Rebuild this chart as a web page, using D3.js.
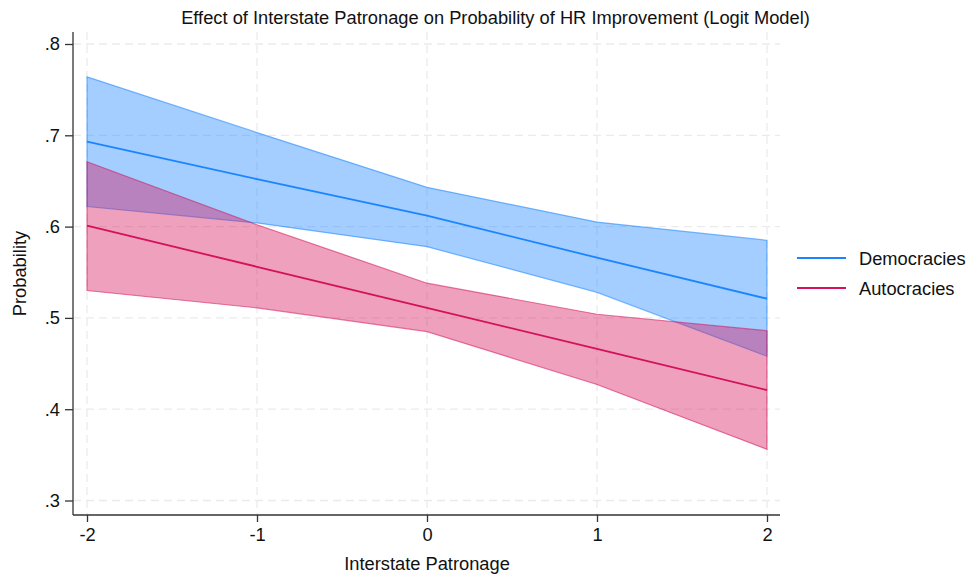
<!DOCTYPE html>
<html>
<head>
<meta charset="utf-8">
<script src="https://cdn.jsdelivr.net/npm/d3@7"></script>
<style>
  html, body { margin: 0; padding: 0; background: #fff; }
  svg { display: block; font-family: "Liberation Sans", Arial, Helvetica, sans-serif; }
</style>
</head>
<body>
<svg id="chart" width="969" height="575"></svg>
<script>
// Predicted probabilities with 95% CIs across interstate patronage levels
const patronage = [-2, -1, 0, 1, 2];
const demMean  = [0.693, 0.652, 0.612, 0.566, 0.521];
const demLow   = [0.622, 0.604, 0.578, 0.528, 0.458];
const demHigh  = [0.764, 0.703, 0.643, 0.605, 0.585];
const autMean  = [0.601, 0.556, 0.511, 0.466, 0.421];
const autLow   = [0.530, 0.511, 0.485, 0.427, 0.356];
const autHigh  = [0.671, 0.602, 0.538, 0.504, 0.486];
const xTicks = [-2, -1, 0, 1, 2];
const yTicks = [0.3, 0.4, 0.5, 0.6, 0.7, 0.8];
const seriesNames = ["Democracies", "Autocracies"];
const seriesColors = ["#1a85ff", "#d41159"];

const FONT = "18.3px";
const svg = d3.select("#chart");
const plot = { left: 73, right: 780, top: 32, bottom: 515 };

const x = d3.scaleLinear().domain([-2, 2]).range([87, 767]);
const y = d3.scaleLinear().domain([0.3, 0.8]).range([500.5, 44]);

// Grid lines (dashed)
const grid = svg.append("g");
grid.selectAll("line.h").data(yTicks).enter().append("line")
  .attr("x1", plot.left).attr("x2", plot.right)
  .attr("y1", d => y(d)).attr("y2", d => y(d))
  .attr("stroke", "#ebebeb").attr("stroke-width", 1.3).attr("stroke-dasharray", "8,5");
grid.selectAll("line.v").data(xTicks).enter().append("line")
  .attr("y1", plot.top).attr("y2", plot.bottom)
  .attr("x1", d => x(d)).attr("x2", d => x(d))
  .attr("stroke", "#ebebeb").attr("stroke-width", 1.3).attr("stroke-dasharray", "8,5");

function rows(low, high, mean) {
  return patronage.map((p, i) => ({ p, low: low[i], high: high[i], mean: mean[i] }));
}
const series = [rows(demLow, demHigh, demMean), rows(autLow, autHigh, autMean)];

const area = d3.area().x(d => x(d.p)).y0(d => y(d.low)).y1(d => y(d.high));
const line = d3.line().x(d => x(d.p)).y(d => y(d.mean));

// Confidence bands
series.forEach((s, i) => {
  svg.append("path").datum(s)
    .attr("d", area)
    .attr("fill", seriesColors[i]).attr("fill-opacity", 0.4)
    .attr("stroke", seriesColors[i]).attr("stroke-opacity", 0.55).attr("stroke-width", 1.2);
});
// Point-estimate lines
series.forEach((s, i) => {
  svg.append("path").datum(s)
    .attr("d", line)
    .attr("fill", "none")
    .attr("stroke", seriesColors[i]).attr("stroke-width", 1.8);
});

// Axes
const yAxis = svg.append("g").attr("transform", `translate(${plot.left},0)`)
  .call(d3.axisLeft(y).tickValues(yTicks).tickSize(8).tickPadding(5)
    .tickFormat(d => d3.format(".1f")(d).replace(/^0/, "")));
yAxis.select(".domain").attr("d", `M0,${plot.top}V${plot.bottom}`);

const xAxis = svg.append("g").attr("transform", `translate(0,${plot.bottom})`)
  .call(d3.axisBottom(x).tickValues(xTicks).tickSize(7).tickPadding(6).tickFormat(d3.format("d")));
xAxis.select(".domain").attr("d", `M${plot.left},0H${plot.right}`);

[yAxis, xAxis].forEach(g => {
  g.select(".domain").attr("stroke", "#333").attr("stroke-width", 1.3);
  g.selectAll(".tick line").attr("stroke", "#333").attr("stroke-width", 1.3);
  g.selectAll(".tick text").attr("fill", "#111").style("font-size", FONT)
    .style("font-family", "'Liberation Sans', Arial, sans-serif");
});
xAxis.selectAll(".tick text").text(d => d < 0 ? "-" + Math.abs(d) : d);

// Titles
svg.append("text").attr("x", 495.5).attr("y", 24).attr("text-anchor", "middle")
  .style("font-size", FONT).attr("fill", "#111")
  .text("Effect of Interstate Patronage on Probability of HR Improvement (Logit Model)");
svg.append("text").attr("x", 427).attr("y", 569.5).attr("text-anchor", "middle")
  .style("font-size", FONT).attr("fill", "#111").text("Interstate Patronage");
svg.append("text").attr("transform", "translate(25.5,273.5) rotate(-90)").attr("text-anchor", "middle")
  .style("font-size", FONT).attr("fill", "#111").text("Probability");

// Legend
const legend = svg.append("g");
seriesNames.forEach((name, i) => {
  const ly = 258 + i * 30;
  legend.append("line").attr("x1", 797).attr("x2", 846).attr("y1", ly).attr("y2", ly)
    .attr("stroke", seriesColors[i]).attr("stroke-width", 1.8);
  legend.append("text").attr("x", 859).attr("y", ly + 6.5)
    .style("font-size", FONT).attr("fill", "#111").text(name);
});
</script>
</body>
</html>
